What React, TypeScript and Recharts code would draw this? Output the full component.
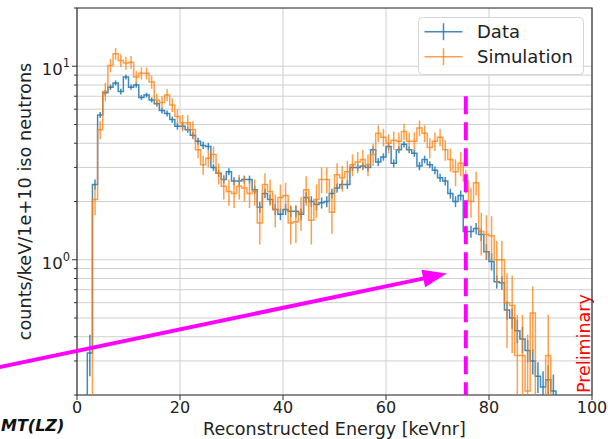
import { ComposedChart, Line, XAxis, YAxis, CartesianGrid, ErrorBar, ReferenceLine, ReferenceArea, Customized } from 'recharts';

const FONT = '"DejaVu Sans", sans-serif';
const BLUE = '#1f77b4';
const ORANGE = '#ff7f0e';
const MAGENTA = '#ff00ff';

// 1 keVnr bins from 0 to 100
const binStart = 0;
const binWidth = 1;
const nBins = 100;

// counts/keV/1e+10 iso neutrons, one value per bin (0 = empty bin)
const dataCounts = [
  0, 0, 0.33, 2.45, 5.6, 7.3, 7.8, 8.2, 7.4, 8.8,
  7.8, 8.0, 6.9, 7.1, 6.7, 6.4, 5.9, 5.7, 5.3, 4.9,
  4.9, 4.7, 4.4, 4.1, 3.9, 3.85, 3.0, 2.8, 2.6, 2.85,
  2.55, 2.55, 2.6, 2.6, 2.3, 1.87, 2.2, 2.05, 1.82, 1.72,
  1.82, 1.78, 1.78, 1.72, 2.1, 2.0, 1.93, 1.97, 2.0, 2.2,
  2.35, 2.45, 2.45, 3.0, 3.0, 3.05, 3.0, 3.7, 3.2, 3.4,
  3.85, 3.15, 3.7, 3.95, 3.7, 3.55, 3.05, 3.3, 3.1, 2.9,
  2.65, 2.55, 2.2, 2.0, 2.15, 1.4, 1.4, 1.45, 1.35, 1.1,
  0.98, 0.77, 0.76, 0.55, 0.5, 0.43, 0.39, 0.34, 0.3, 0.25,
  0.22, 0.24, 0.21, 0, 0, 0, 0, 0, 0, 0,
];
const dataErr = [
  0, 0, 0.08, 0.15, 0.2, 0.25, 0.25, 0.25, 0.25, 0.25,
  0.25, 0.25, 0.2, 0.2, 0.2, 0.2, 0.2, 0.2, 0.2, 0.2,
  0.2, 0.17, 0.17, 0.17, 0.17, 0.17, 0.12, 0.12, 0.12, 0.12,
  0.12, 0.12, 0.12, 0.12, 0.12, 0.12, 0.12, 0.12, 0.12, 0.12,
  0.12, 0.12, 0.12, 0.12, 0.13, 0.13, 0.13, 0.13, 0.13, 0.13,
  0.13, 0.13, 0.13, 0.13, 0.13, 0.13, 0.13, 0.15, 0.15, 0.15,
  0.15, 0.15, 0.15, 0.15, 0.15, 0.15, 0.15, 0.15, 0.13, 0.13,
  0.13, 0.13, 0.13, 0.13, 0.13, 0.1, 0.1, 0.1, 0.1, 0.1,
  0.1, 0.06, 0.06, 0.06, 0.06, 0.06, 0.06, 0.045, 0.045, 0.045,
  0.045, 0.045, 0.045, 0, 0, 0, 0, 0, 0, 0,
];
const simCounts = [
  0, 0, 0, 2.05, 4.7, 7.4, 10.1, 11.6, 10.7, 10.4,
  10.5, 8.8, 9.2, 9.2, 8.3, 6.7, 6.5, 7.1, 6.3, 5.5,
  5.1, 5.1, 4.7, 3.7, 3.1, 3.35, 3.5, 2.8, 2.4, 2.25,
  2.2, 2.4, 2.35, 2.2, 2.25, 1.55, 2.45, 2.25, 1.82, 2.1,
  2.15, 1.55, 1.57, 1.76, 2.3, 1.6, 2.05, 2.6, 2.6, 1.76,
  2.75, 2.65, 2.85, 3.1, 3.2, 3.3, 3.1, 3.5, 4.5, 4.3,
  4.0, 4.15, 4.1, 4.6, 4.1, 4.1, 4.8, 4.5, 3.8, 4.1,
  4.3, 3.7, 3.3, 2.85, 3.15, 2.55, 2.0, 2.5, 1.4, 1.35,
  1.33, 1.0, 1.0, 0.6, 0.58, 0.32, 0.32, 0.21, 0.53, 0,
  0, 0.32, 0, 0, 0, 0, 0, 0, 0, 0,
];
const simErr = [
  0, 0, 0, 0.35, 0.5, 0.8, 0.8, 0.8, 0.8, 0.8,
  0.8, 0.65, 0.65, 0.65, 0.65, 0.5, 0.5, 0.5, 0.5, 0.5,
  0.5, 0.5, 0.5, 0.35, 0.35, 0.35, 0.35, 0.35, 0.35, 0.35,
  0.35, 0.35, 0.35, 0.35, 0.35, 0.35, 0.35, 0.35, 0.35, 0.35,
  0.35, 0.35, 0.35, 0.35, 0.4, 0.4, 0.4, 0.4, 0.4, 0.4,
  0.4, 0.4, 0.4, 0.4, 0.4, 0.4, 0.4, 0.45, 0.45, 0.45,
  0.45, 0.45, 0.45, 0.45, 0.45, 0.45, 0.45, 0.45, 0.45, 0.45,
  0.45, 0.45, 0.45, 0.45, 0.45, 0.35, 0.35, 0.35, 0.35, 0.35,
  0.35, 0.25, 0.25, 0.25, 0.25, 0.2, 0.2, 0.2, 0.2, 0,
  0, 0.2, 0, 0, 0, 0, 0, 0, 0, 0,
];

const series = [
  { key: 'data', name: 'Data', counts: dataCounts, err: dataErr, color: BLUE, opacity: 0.85 },
  { key: 'sim', name: 'Simulation', counts: simCounts, err: simErr, color: ORANGE, opacity: 0.75 },
];

const xTicks = [0, 20, 40, 60, 80, 100];
const yTicks = [0.2, 0.3, 0.4, 0.5, 0.6, 0.7, 0.8, 0.9, 1, 2, 3, 4, 5, 6, 7, 8, 9, 10, 20];
const Y_MIN = 0.2;
const Y_MAX = 20;
const EMPTY = 0.01; // empty bins drawn below the axis floor

// annotations (data coords)
const cutEnergy = 75.5;
const cutTop = 7;
const arrowFrom = { x: -15, y: 0.279 };
const arrowTo = { x: 71.8, y: 0.848 };

const rows = Array.from({ length: nBins }, (_, i) => {
  const row: any = { x: binStart + (i + 0.5) * binWidth };
  series.forEach((s) => {
    const v = s.counts[i];
    const e = s.err[i];
    row[s.key] = v > 0 ? v : EMPTY;
    row[s.key + 'Err'] = v > 0 ? [Math.max(0, Math.min(e, v - Y_MIN)), e] : [0, 0];
  });
  return row;
});

const YTick = (props: any) => {
  const { x, y, payload } = props;
  const lg = Math.log10(payload.value);
  const exp = Math.round(lg);
  const major = Math.abs(lg - exp) < 1e-6;
  const axisX = x + 7;
  return (
    <g>
      <line x1={axisX - (major ? 5 : 3)} x2={axisX} y1={y} y2={y} stroke="#333" strokeWidth={1} />
      {major && (
        <text x={x} y={y + 9} textAnchor="end" fontFamily={FONT} fontSize={16.5} fill="#222">
          10<tspan dy={-8} fontSize={11.5}>{exp}</tspan>
        </text>
      )}
    </g>
  );
};

const ArrowShape = (p: any) => {
  const { x1, y1, x2, y2 } = p;
  const dx = x2 - x1;
  const dy = y2 - y1;
  const len = Math.hypot(dx, dy);
  const ux = dx / len;
  const uy = dy / len;
  const headLen = 24;
  const headW = 9;
  const bx = x2 - ux * headLen;
  const by = y2 - uy * headLen;
  return (
    <g>
      <line x1={x1} y1={y1} x2={bx + ux * 2} y2={by + uy * 2} stroke={MAGENTA} strokeWidth={4} />
      <polygon
        points={`${x2},${y2} ${bx - uy * headW},${by + ux * headW} ${bx + uy * headW},${by - ux * headW}`}
        fill={MAGENTA}
      />
    </g>
  );
};

const Annotations = () => (
  <g fontFamily={FONT}>
    <text transform="rotate(-90)" x={-201.5} y={31} textAnchor="middle" fontSize={17.7} fill="#222">
      counts/keV/1e+10 iso neutrons
    </text>
    <text transform="rotate(-90)" x={-393} y={590} textAnchor="start" fontSize={17.5} fill="red">
      Preliminary
    </text>
    <text x={1} y={431} textAnchor="start" fontSize={16} fontWeight="bold" fontStyle="italic" fill="#111">
      MT(LZ)
    </text>
    {/* legend */}
    <rect x={418.5} y={17.5} width={165} height={57} rx={4} fill="#fff" fillOpacity={0.8} stroke="#d6d6d6" />
    {series.map((s, i) => {
      const cy = 31.7 + i * 25;
      return (
        <g key={s.key}>
          <line x1={424.5} x2={462.5} y1={cy} y2={cy} stroke={s.color} strokeOpacity={s.opacity} strokeWidth={1.5} />
          <line x1={443.5} x2={443.5} y1={cy - 8.5} y2={cy + 8.5} stroke={s.color} strokeOpacity={s.opacity} strokeWidth={1.5} />
          <text x={477} y={cy + 6.5} fontSize={18} fill="#222">{s.name}</text>
        </g>
      );
    })}
  </g>
);

export default function App() {
  return (
    <div style={{ position: 'absolute', left: 0, top: 0, width: 608, height: 439, background: '#fff' }}>
      <ComposedChart width={608} height={439} data={rows} margin={{ top: 8, right: 16, bottom: 0, left: 0 }}>
        <CartesianGrid stroke="#cfcfcf" strokeWidth={1} />
        <XAxis
          dataKey="x"
          type="number"
          domain={[0, 100]}
          ticks={xTicks}
          interval={0}
          allowDataOverflow
          height={44}
          axisLine={false}
          tickSize={5}
          tickMargin={2}
          tickLine={{ stroke: '#333' }}
          tick={{ fontSize: 16, fill: '#222', fontFamily: FONT }}
          label={{ value: 'Reconstructed Energy [keVnr]', position: 'insideBottom', offset: 4, fontSize: 17.5, fill: '#222', fontFamily: FONT }}
        />
        <YAxis
          type="number"
          scale="log"
          domain={[Y_MIN, Y_MAX]}
          ticks={yTicks}
          interval={0}
          allowDataOverflow
          width={77}
          axisLine={false}
          tickLine={false}
          tickSize={4}
          tickMargin={3}
          tick={<YTick />}
        />
        {series.map((s) => (
          <Line
            key={s.key}
            dataKey={s.key}
            name={s.name}
            type="step"
            stroke={s.color}
            strokeOpacity={s.opacity}
            strokeWidth={1.5}
            dot={false}
            activeDot={false}
            isAnimationActive={false}
          >
            <ErrorBar dataKey={s.key + 'Err'} width={0} stroke={s.color} strokeOpacity={s.opacity} strokeWidth={1.5} direction="y" />
          </Line>
        ))}
        <ReferenceLine
          segment={[{ x: cutEnergy, y: cutTop }, { x: cutEnergy, y: Y_MIN }]}
          stroke={MAGENTA}
          strokeWidth={4}
          strokeDasharray="18 8"
        />
        <ReferenceLine segment={[arrowFrom, arrowTo]} ifOverflow="visible" shape={ArrowShape} />
        <ReferenceArea x1={0} x2={100} y1={Y_MIN} y2={Y_MAX} fill="none" stroke="#333" strokeWidth={1.2} ifOverflow="visible" />
        <Customized component={Annotations} />
      </ComposedChart>
    </div>
  );
}
